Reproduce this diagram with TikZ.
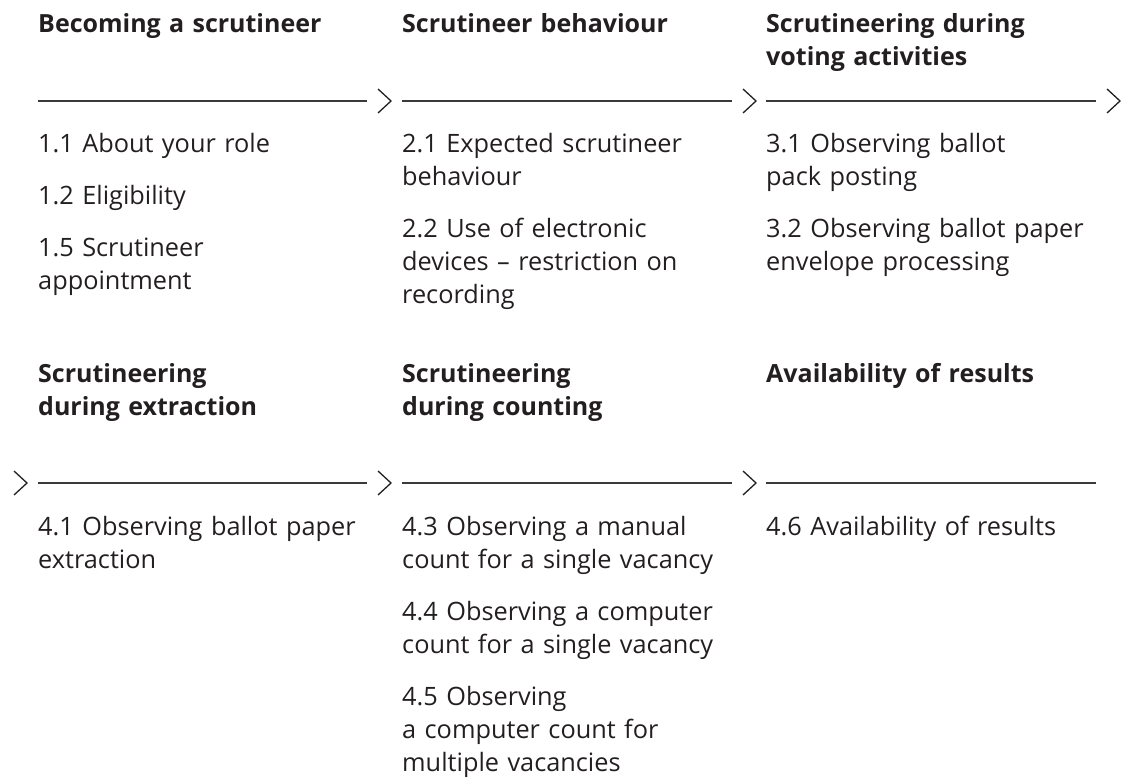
\documentclass[tikz,border=0pt]{standalone}
\usepackage{fontspec}
\setmainfont{Open Sans}
\definecolor{inkdark}{HTML}{231F20}
\definecolor{rulegray}{HTML}{3A3A3A}
\begin{document}
\begin{tikzpicture}[x=1pt,y=-1pt,
    head/.style={anchor=base west, inner sep=0pt, align=left, text width=345pt,
                 font=\fontsize{25}{33}\selectfont\bfseries, text=inkdark},
    item/.style={anchor=base west, inner sep=0pt, align=left, text width=345pt,
                 font=\fontsize{25.3}{33}\selectfont, text=inkdark},
    rulel/.style={draw=rulegray, line width=1.4pt},
    chev/.style={draw=inkdark, line width=1.3pt}]
    \useasboundingbox (0,0) rectangle (1123,783);

    % first row
    \node[head] (h1) at (38,33)  {Becoming a scrutineer};
    \node[head] (h2) at (402,33) {Scrutineer behaviour};
    \node[head] (h3) at (766,33) {Scrutineering during\\voting activities};

    \coordinate (a1) at (38,101);   \coordinate (b1) at (367,101);
    \coordinate (a2) at (402,101);  \coordinate (b2) at (732,101);
    \coordinate (a3) at (766,101);  \coordinate (b3) at (1096,101);
    \draw[rulel] (a1) -- (b1);
    \draw[rulel] (a2) -- (b2);
    \draw[rulel] (a3) -- (b3);
    \draw[chev] (b1) ++(11,-12) -- ++(13,12) -- ++(-13,12);
    \draw[chev] (b2) ++(11,-12) -- ++(13,12) -- ++(-13,12);
    \draw[chev] (b3) ++(11,-12) -- ++(13,12) -- ++(-13,12);

    \node[item] (p11) at (38,153)  {1.1 About your role};
    \node[item] (p12) at (38,205)  {1.2 Eligibility};
    \node[item] (p15) at (38,257)  {1.5 Scrutineer\\appointment};

    \node[item] (p21) at (402,153) {2.1 Expected scrutineer\\behaviour};
    \node[item] (p22) at (402,238) {2.2 Use of electronic\\devices -- restriction on\\recording};

    \node[item] (p31) at (766,153) {3.1 Observing ballot\\pack posting};
    \node[item] (p32) at (766,238) {3.2 Observing ballot paper\\envelope processing};

    % second row
    \node[head] (h4) at (38,382)  {Scrutineering\\during extraction};
    \node[head] (h5) at (402,382) {Scrutineering\\during counting};
    \node[head] (h6) at (766,382) {Availability of results};

    \coordinate (a4) at (38,483);   \coordinate (b4) at (367,483);
    \coordinate (a5) at (402,483);  \coordinate (b5) at (732,483);
    \coordinate (a6) at (766,483);  \coordinate (b6) at (1096,483);
    \draw[rulel] (a4) -- (b4);
    \draw[rulel] (a5) -- (b5);
    \draw[rulel] (a6) -- (b6);
    \draw[chev] (a4) ++(-24,-12) -- ++(13,12) -- ++(-13,12);
    \draw[chev] (b4) ++(11,-12) -- ++(13,12) -- ++(-13,12);
    \draw[chev] (b5) ++(11,-12) -- ++(13,12) -- ++(-13,12);

    \node[item] (p41) at (38,535)  {4.1 Observing ballot paper\\extraction};

    \node[item] (p43) at (402,535) {4.3 Observing a manual\\count for a single vacancy};
    \node[item] (p44) at (402,620) {4.4 Observing a computer\\count for a single vacancy};
    \node[item] (p45) at (402,705) {4.5 Observing\\a computer count for\\multiple vacancies};

    \node[item] (p46) at (766,535) {4.6 Availability of results};
\end{tikzpicture}
\end{document}
